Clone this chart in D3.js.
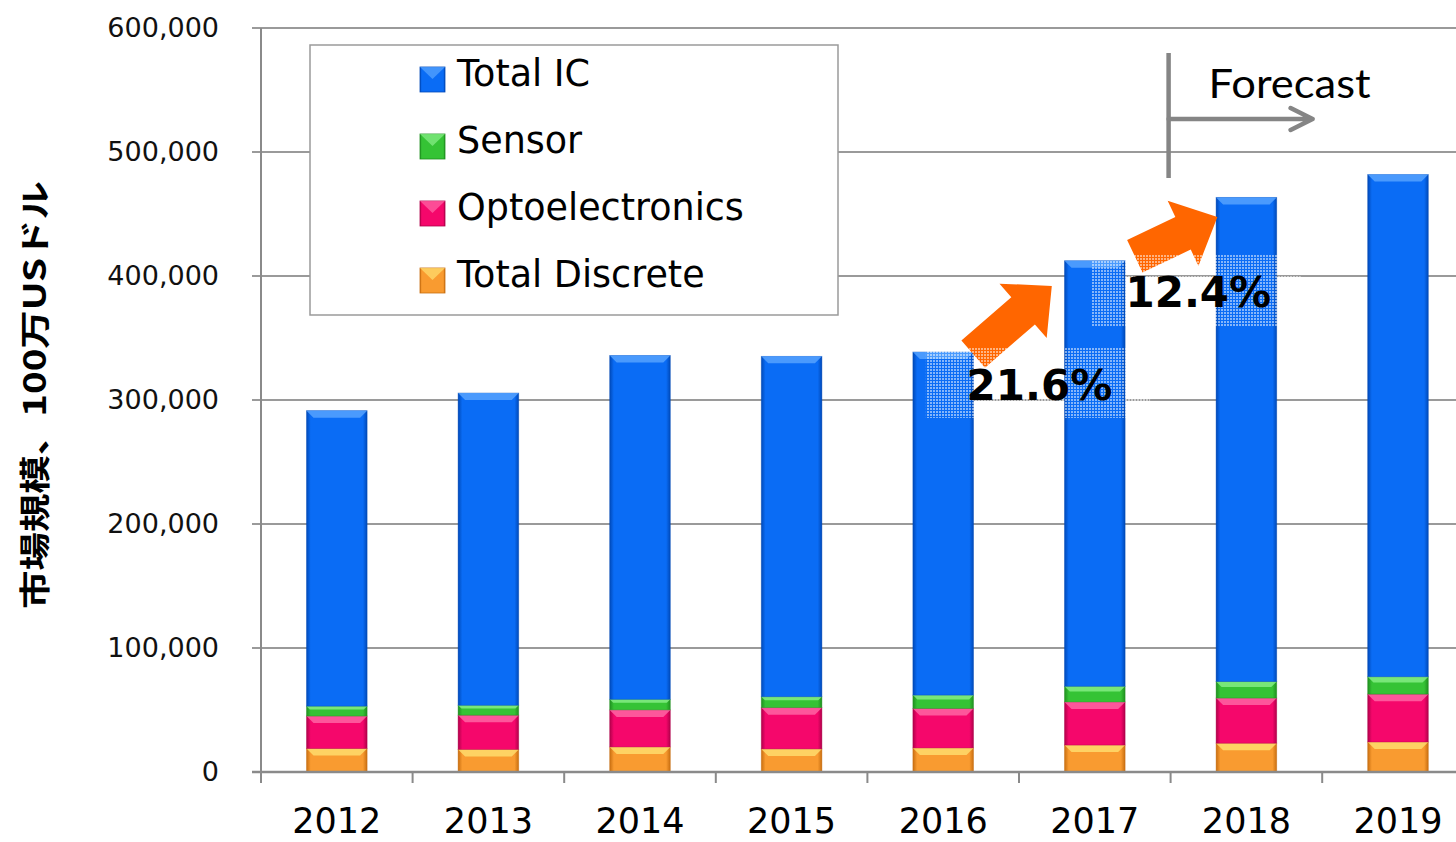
<!DOCTYPE html>
<html>
<head>
<meta charset="utf-8">
<script src="https://cdn.jsdelivr.net/npm/d3@7"></script>
<style>
  body { margin: 0; background: #fff; }
  svg { display: block; }
</style>
</head>
<body>
<div id="chart"></div>
<script>
// data, million US dollars
var years = ["2012", "2013", "2014", "2015", "2016", "2017", "2018", "2019"];
var discrete = [18900, 18200, 20200, 18600, 19400, 21700, 23200, 24200];
var opto = [26200, 27600, 29900, 33300, 31800, 34800, 36400, 38600];
var sensor = [8000, 8000, 8500, 8800, 10800, 12600, 13300, 14000];
var totalIC = [238300, 251800, 277300, 274500, 276700, 343200, 390500, 405000];
var yTicks = [0, 100000, 200000, 300000, 400000, 500000, 600000];

var seriesNames = ["Total Discrete", "Optoelectronics", "Sensor", "Total IC"];
var legendOrder = ["Total IC", "Sensor", "Optoelectronics", "Total Discrete"];
var colors = {
    "Total IC": { base: "#0a6cf5", light: "#5aa6ff", dark: "#0049b8" },
    "Sensor": { base: "#35c335", light: "#8af08a", dark: "#1f8f1f" },
    "Optoelectronics": { base: "#f5076b", light: "#ff6aa8", dark: "#b0004a" },
    "Total Discrete": { base: "#f99b30", light: "#ffe070", dark: "#c86e10" }
};

var W = 1456, H = 842;
var plotLeft = 261, plotTop = 28, plotBottom = 772;

var svg = d3.select("#chart")
    .append("svg")
    .attr("width", W)
    .attr("height", H);

var defs = svg.append("defs");

// bevel-ish gradient per series
seriesNames.forEach(function(name, i) {
    var g = defs.append("linearGradient")
        .attr("id", "grad" + i)
        .attr("x1", "0").attr("x2", "1").attr("y1", "0").attr("y2", "0");
    g.append("stop").attr("offset", "0%").attr("stop-color", colors[name].dark);
    g.append("stop").attr("offset", "7%").attr("stop-color", colors[name].base);
    g.append("stop").attr("offset", "93%").attr("stop-color", colors[name].base);
    g.append("stop").attr("offset", "100%").attr("stop-color", colors[name].dark);
});

// dither pattern for the label boxes
var pat = defs.append("pattern")
    .attr("id", "dots")
    .attr("width", 3).attr("height", 3)
    .attr("patternUnits", "userSpaceOnUse");
pat.append("rect").attr("x", 0).attr("y", 0).attr("width", 2).attr("height", 2).attr("fill", "#fff").attr("opacity", 0.5);

// table for stack
var table = years.map(function(yr, i) {
    return {
        year: yr,
        "Total Discrete": discrete[i],
        "Optoelectronics": opto[i],
        "Sensor": sensor[i],
        "Total IC": totalIC[i]
    };
});

var x = d3.scaleBand()
    .domain(years)
    .range([plotLeft, plotLeft + 8 * 151.6])
    .paddingInner(0.6)
    .paddingOuter(0.3);

var y = d3.scaleLinear()
    .domain([0, 600000])
    .range([plotBottom, plotTop]);

// gridlines
svg.append("g")
    .selectAll("line")
    .data(yTicks)
    .enter()
    .append("line")
    .attr("x1", plotLeft - 9)
    .attr("x2", W)
    .attr("y1", d => y(d))
    .attr("y2", d => y(d))
    .attr("stroke", "#9a9a9a")
    .attr("stroke-width", 2);

// y axis labels
var yAxis = svg.append("g")
    .attr("transform", "translate(" + plotLeft + ",0)")
    .call(d3.axisLeft(y).tickValues(yTicks).tickFormat(d3.format(",")).tickSize(9).tickPadding(33));
yAxis.select(".domain").remove();
yAxis.selectAll("line").remove();
yAxis.selectAll("text")
    .attr("font-family", "DejaVu Sans, Verdana, sans-serif")
    .attr("font-size", "27px")
    .attr("fill", "#111")
    .attr("dy", "0.3em");

// y axis line
svg.append("line")
    .attr("x1", plotLeft).attr("x2", plotLeft)
    .attr("y1", plotTop).attr("y2", plotBottom + 11)
    .attr("stroke", "#8a8a8a").attr("stroke-width", 2);

// y title
svg.append("text")
    .attr("transform", "translate(46," + 395 + ") rotate(-90)")
    .attr("text-anchor", "middle")
    .attr("font-family", "Noto Sans CJK JP, sans-serif")
    .attr("font-weight", "bold")
    .attr("font-size", "31px")
    .attr("textLength", 428)
    .attr("lengthAdjust", "spacingAndGlyphs")
    .text("市場規模、100万USドル");

// legend box
var legend = svg.append("g").attr("transform", "translate(310,45)");
legend.append("rect")
    .attr("width", 528).attr("height", 270)
    .attr("fill", "#fff")
    .attr("stroke", "#9a9a9a")
    .attr("stroke-width", 1.5);

var leg = legend.selectAll("g.item")
    .data(legendOrder)
    .enter()
    .append("g")
    .attr("class", "item")
    .attr("transform", (d, i) => "translate(110," + (22 + i * 67) + ")");
leg.append("rect")
    .attr("width", 25).attr("height", 25)
    .attr("fill", d => "url(#grad" + seriesNames.indexOf(d) + ")")
    .attr("stroke", d => colors[d].dark)
    .attr("stroke-width", 0.8);
leg.append("path")
    .attr("d", "M0,0 L25,0 L12.5,12 Z")
    .attr("fill", d => colors[d].light)
    .attr("opacity", 0.7);
leg.append("text")
    .attr("x", 37)
    .attr("y", 19)
    .attr("font-family", "DejaVu Sans, Verdana, sans-serif")
    .attr("font-size", "36.5px")
    .attr("fill", "#000")
    .text(d => d);

// stacked bars
var stack = d3.stack().keys(seriesNames)(table);
var bw = x.bandwidth();

var layers = svg.selectAll("g.layer")
    .data(stack)
    .enter()
    .append("g")
    .attr("class", "layer");

layers.selectAll("rect")
    .data(d => d.map(p => ({ p: p, key: d.key, i: d.index })))
    .enter()
    .append("rect")
    .attr("x", d => x(d.p.data.year))
    .attr("y", d => y(d.p[1]))
    .attr("width", bw)
    .attr("height", d => y(d.p[0]) - y(d.p[1]))
    .attr("fill", d => "url(#grad" + d.i + ")")
    .attr("stroke", d => colors[d.key].dark)
    .attr("stroke-opacity", 0.5)
    .attr("stroke-width", 0.8);

// top bevel highlight
layers.selectAll("path")
    .data(d => d.map(p => ({ p: p, key: d.key })))
    .enter()
    .append("path")
    .attr("d", function(d) {
        var x0 = x(d.p.data.year), y0 = y(d.p[1]);
        var h = Math.min(7, (y(d.p[0]) - y(d.p[1])) / 3);
        return "M" + x0 + "," + y0 + "L" + (x0 + bw) + "," + y0 +
            "L" + (x0 + bw - h) + "," + (y0 + h) + "L" + (x0 + h) + "," + (y0 + h) + "Z";
    })
    .attr("fill", d => colors[d.key].light)
    .attr("opacity", 0.8);

// x axis
svg.append("line")
    .attr("x1", plotLeft - 9).attr("x2", W)
    .attr("y1", plotBottom).attr("y2", plotBottom)
    .attr("stroke", "#8a8a8a").attr("stroke-width", 2.5);

svg.append("g")
    .selectAll("line")
    .data(years)
    .enter()
    .append("line")
    .attr("x1", d => x(d) + bw / 2 + x.step() / 2)
    .attr("x2", d => x(d) + bw / 2 + x.step() / 2)
    .attr("y1", plotBottom)
    .attr("y2", plotBottom + 11)
    .attr("stroke", "#8a8a8a").attr("stroke-width", 2);

svg.append("g")
    .selectAll("text")
    .data(years)
    .enter()
    .append("text")
    .attr("x", d => x(d) + bw / 2)
    .attr("y", 833)
    .attr("text-anchor", "middle")
    .attr("font-family", "DejaVu Sans, Verdana, sans-serif")
    .attr("font-size", "35px")
    .attr("fill", "#000")
    .text(d => d);

// forecast marker
var fx = x("2018") - x.step() * 0.3 - 2;
svg.append("line")
    .attr("x1", fx).attr("x2", fx)
    .attr("y1", 53).attr("y2", 178)
    .attr("stroke", "#858585").attr("stroke-width", 4.5);
svg.append("path")
    .attr("d", "M" + fx + ",119 L" + (fx + 144) + ",119 M" + (fx + 122) + ",108 L" + (fx + 144) + ",119 L" + (fx + 122) + ",130")
    .attr("fill", "none")
    .attr("stroke", "#858585")
    .attr("stroke-width", 4.5)
    .attr("stroke-linecap", "round")
    .attr("stroke-linejoin", "round");
svg.append("text")
    .attr("x", fx + 40)
    .attr("y", 98)
    .attr("font-family", "Lato, Open Sans, sans-serif")
    .attr("font-size", "41px")
    .attr("textLength", 162)
    .attr("lengthAdjust", "spacingAndGlyphs")
    .attr("fill", "#000")
    .text("Forecast");

// growth arrows
function blockArrow(x0, y0, x1, y1, sw, hw, hl) {
    var dx = x1 - x0, dy = y1 - y0, len = Math.sqrt(dx * dx + dy * dy);
    var ux = dx / len, uy = dy / len, nx = -uy, ny = ux;
    var bx = x1 - ux * hl, by = y1 - uy * hl;
    var pts = [
        [x0 + nx * sw, y0 + ny * sw],
        [bx + nx * sw, by + ny * sw],
        [bx + nx * hw, by + ny * hw],
        [x1, y1],
        [bx - nx * hw, by - ny * hw],
        [bx - nx * sw, by - ny * sw],
        [x0 - nx * sw, y0 - ny * sw]
    ];
    return "M" + pts.map(p => p.join(",")).join("L") + "Z";
}

var arrows = [
    { from: ["2016", 337000, 30], to: ["2017", 392000, -43] },
    { from: ["2017", 416000, 40], to: ["2018", 447500, -29] }
];
arrows.forEach(function(a) {
    var x0 = x(a.from[0]) + bw / 2 + a.from[2], y0 = y(a.from[1]);
    var x1 = x(a.to[0]) + bw / 2 + a.to[2], y1 = y(a.to[1]);
    svg.append("path")
        .attr("d", blockArrow(x0, y0, x1, y1, 18, 36, 38))
        .attr("fill", "#ff6600");
});

// growth labels with dotted boxes
var growth = [
    { label: "21.6%", x0: x("2016") + 13, x1: x("2017") + bw + 25, top: 342700, bottom: 285500, tx: x("2016") + bw - 7, ty: 300000 },
    { label: "12.4%", x0: x("2017") + 27, x1: x("2018") + bw + 24, top: 417000, bottom: 359000, tx: x("2017") + 61, ty: 375000 }
];
growth.forEach(function(g) {
    svg.append("rect")
        .attr("x", g.x0)
        .attr("y", y(g.top))
        .attr("width", g.x1 - g.x0)
        .attr("height", y(g.bottom) - y(g.top))
        .attr("fill", "url(#dots)");
    svg.append("text")
        .attr("x", g.tx)
        .attr("y", y(g.ty))
        .attr("font-family", "DejaVu Sans, Verdana, sans-serif")
        .attr("font-weight", "bold")
        .attr("font-size", "42px")
        .attr("fill", "#000")
        .text(g.label);
});
</script>
</body>
</html>
